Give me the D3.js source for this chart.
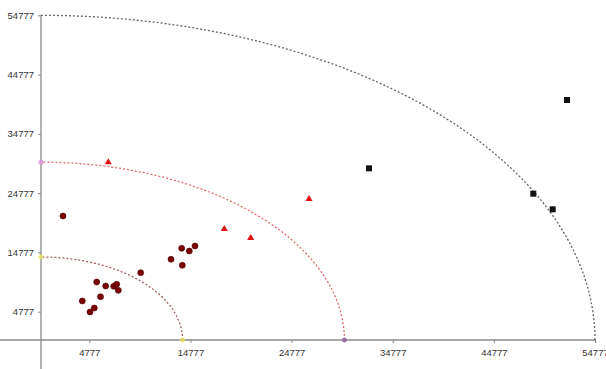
<!DOCTYPE html>
<html>
<head>
<meta charset="utf-8">
<script src="https://cdn.jsdelivr.net/npm/d3@7"></script>
<style>
  body { margin: 0; background: #fff; }
  .axis text { font-family: "Liberation Sans", Arial, sans-serif; font-size: 9.5px; fill: #333; }
  .axis line { stroke: #888; }
</style>
</head>
<body>
<div id="chart"></div>
<script>
'use strict';

// tick values shared by both axes
const tickValues = [4777, 14777, 24777, 34777, 44777, 54777];

// reference quarter circles (radius, colour)
const ringRadii = [14000, 30000, 54777];
const ringColors = ["#a86262", "#e86a6a", "#666666"];

// dark red circles
const circleX = [2175, 4083, 4845, 5270, 5507, 5883, 6397, 7188, 7485, 7643, 9858, 12854, 13971, 13911, 14663, 15226];
const circleY = [20918, 6579, 4723, 5398, 9784, 7304, 9109, 9059, 9396, 8384, 11353, 13613, 12601, 15469, 15013, 15857];

// red triangles
const triX = [6654, 18123, 20734, 26498];
const triY = [29976, 18725, 17206, 23785];

// black squares
const squareX = [32430, 52007, 48675, 50593];
const squareY = [28960, 40486, 24680, 22048];

// where the rings meet the axes
const markerColors = ["#e8e060", "#e090e0", "#9060a0"];

const width = 606, height = 369;

const svg = d3.select("#chart").append("svg")
    .attr("width", width)
    .attr("height", height);

let x = d3.scaleLinear().domain([0, 54777]).range([41, 595]);
let y = d3.scaleLinear().domain([0, 54777]).range([340, 15.3]);

// axes
let xAxis = d3.axisBottom(x).tickValues(tickValues).tickSize(3).tickPadding(6).tickFormat(d3.format("d"));
let yAxis = d3.axisLeft(y).tickValues(tickValues).tickSize(3).tickPadding(4).tickFormat(d3.format("d"));

svg.append("g")
    .attr("class", "axis")
    .attr("transform", "translate(0," + y(0) + ")")
    .call(xAxis)
    .call(g => g.select(".domain").remove());

svg.append("g")
    .attr("class", "axis")
    .attr("transform", "translate(" + x(0) + ",0)")
    .call(yAxis)
    .call(g => g.select(".domain").remove());

svg.append("line")
    .attr("x1", x(-4060)).attr("x2", x(54777))
    .attr("y1", y(0)).attr("y2", y(0))
    .attr("stroke", "#8a8a8a").attr("stroke-width", 1.3);

svg.append("line")
    .attr("x1", x(0)).attr("x2", x(0))
    .attr("y1", y(54777)).attr("y2", height)
    .attr("stroke", "#8a8a8a").attr("stroke-width", 1.3);

// dashed quarter circles
let angles = d3.range(0, 91, 1).map(a => a * Math.PI / 180);
ringRadii.forEach(function (r, i) {
    let line = d3.line()
        .x(t => x(r * Math.cos(t)))
        .y(t => y(r * Math.sin(t)));
    svg.append("path")
        .attr("d", line(angles))
        .attr("fill", "none")
        .attr("stroke", ringColors[i])
        .attr("stroke-width", 1.3)
        .attr("stroke-dasharray", "2,2");
});

// axis intersection markers
[[ringRadii[0], 0, 0], [0, ringRadii[0], 0], [0, ringRadii[1], 1], [ringRadii[1], 0, 2]].forEach(function (m) {
    svg.append("circle")
        .attr("cx", x(m[0])).attr("cy", y(m[1]))
        .attr("r", 2.5)
        .attr("fill", markerColors[m[2]])
        .attr("opacity", 0.8);
});

// circles
svg.selectAll(".dot")
    .data(circleX.map((d, i) => ({ x: d, y: circleY[i] })))
    .enter().append("circle")
    .attr("class", "dot")
    .attr("cx", d => x(d.x))
    .attr("cy", d => y(d.y))
    .attr("r", 3)
    .attr("fill", "#7a0000")
    .attr("stroke", "#4a0000")
    .attr("stroke-width", 0.6);

// triangles
svg.selectAll(".tri")
    .data(triX.map((d, i) => ({ x: d, y: triY[i] })))
    .enter().append("path")
    .attr("class", "tri")
    .attr("d", d3.symbol().type(d3.symbolTriangle).size(22))
    .attr("transform", d => "translate(" + x(d.x) + "," + y(d.y) + ")")
    .attr("fill", "#e01010");

// squares
svg.selectAll(".sq")
    .data(squareX.map((d, i) => ({ x: d, y: squareY[i] })))
    .enter().append("rect")
    .attr("class", "sq")
    .attr("x", d => x(d.x) - 3)
    .attr("y", d => y(d.y) - 3)
    .attr("width", 6)
    .attr("height", 6)
    .attr("fill", "#111");
</script>
</body>
</html>
